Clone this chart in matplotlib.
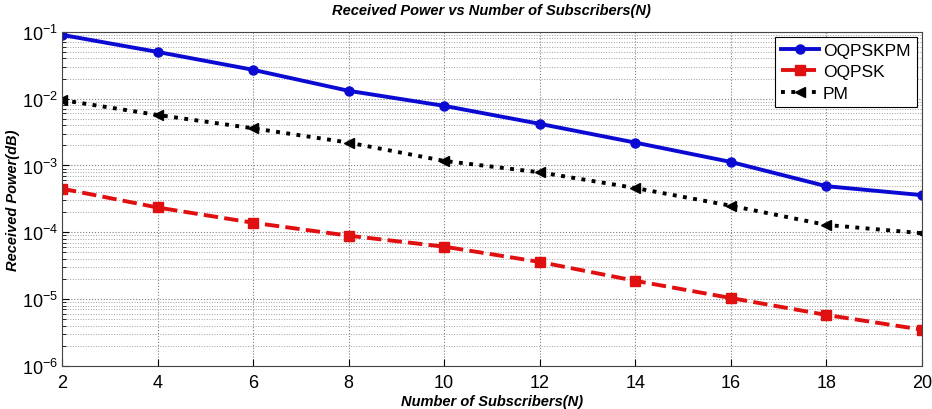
import numpy as np
import matplotlib.pyplot as plt
from matplotlib.ticker import LogLocator, NullFormatter

plt.rcParams['font.family'] = ['Liberation Sans', 'DejaVu Sans']
plt.rcParams['mathtext.default'] = 'regular'

# Received power per scheme vs number of subscribers
subscribers = [2, 4, 6, 8, 10, 12, 14, 16, 18, 20]
oqpskpm = [0.090, 0.050, 0.027, 0.0131, 0.0078, 0.0042, 0.0022, 0.00113, 0.00049, 0.00036]
oqpsk = [4.5e-4, 2.35e-4, 1.39e-4, 8.9e-5, 6.1e-5, 3.6e-5, 1.88e-5, 1.04e-5, 5.8e-6, 3.5e-6]
pm = [0.0095, 0.0057, 0.0036, 0.0022, 0.00117, 0.00079, 0.00046, 0.00025, 0.000129, 0.000097]

fig = plt.figure(figsize=(9.32, 4.1), dpi=100)
ax = fig.add_axes([0.0665, 0.105, 0.9225, 0.815])

ax.semilogy(subscribers, oqpskpm, '-o', color='#0a0ad2', lw=2.8, ms=6.5, label='OQPSKPM')
ax.semilogy(subscribers, oqpsk, '--s', color='#e01010', lw=2.8, ms=6.5, label='OQPSK')
ax.semilogy(subscribers, pm, ':<', color='black', lw=2.8, ms=6.5, label='PM')

ax.set_xlim(2, 20)
ax.set_ylim(1e-6, 1e-1)
ax.set_xticks(subscribers)
ax.yaxis.set_major_locator(LogLocator(base=10, numticks=10))
ax.yaxis.set_minor_locator(LogLocator(base=10, subs=np.arange(2, 10), numticks=10))
ax.yaxis.set_minor_formatter(NullFormatter())

ax.grid(True, which='major', ls=':', color='#808080', lw=0.8)
ax.grid(True, which='minor', axis='y', ls=':', color='#a0a0a0', lw=0.7)
ax.tick_params(which='both', direction='in', labelsize=13)
ax.tick_params(which='major', length=5)
ax.tick_params(which='minor', length=3)
ax.tick_params(axis='y', pad=3)
ax.tick_params(axis='x', pad=6)
for s in ax.spines.values():
    s.set_color('#444444')

ax.set_title('Received Power vs Number of Subscribers(N)', fontsize=10.5,
             fontweight='bold', style='italic', pad=13)
ax.set_xlabel('Number of Subscribers(N)', fontsize=10.5, fontweight='bold',
              style='italic', labelpad=2)
ax.set_ylabel('Received Power(dB)', fontsize=10.5, fontweight='bold',
              style='italic', labelpad=1)

leg = ax.legend(loc='upper right', fontsize=12.5, fancybox=False, framealpha=1,
                edgecolor='black', handlelength=2.2, borderpad=0.35,
                labelspacing=0.35, handletextpad=0.2, borderaxespad=0.3)
leg.get_frame().set_linewidth(0.8)

fig.savefig('out.png', dpi=100)
